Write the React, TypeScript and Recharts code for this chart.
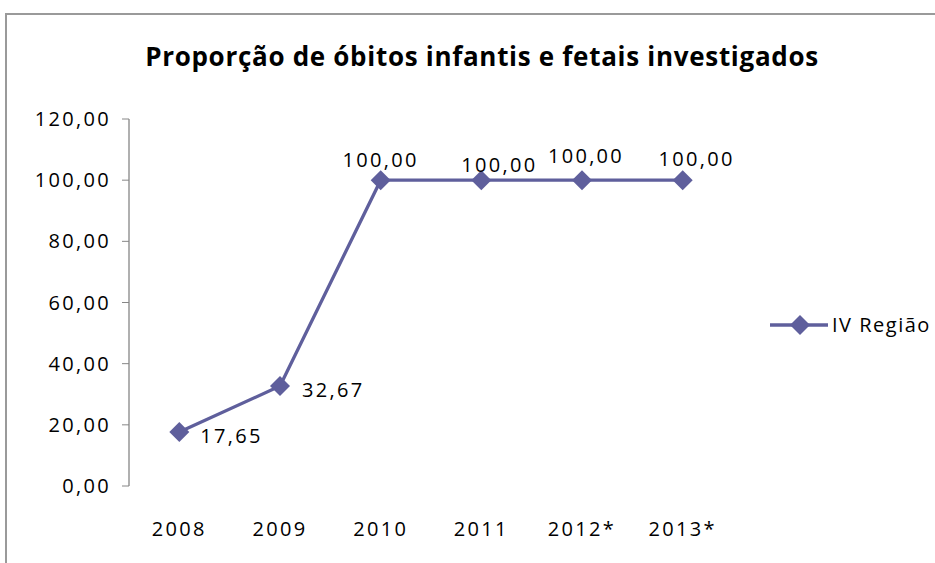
import React from 'react';
import { LineChart, Line, XAxis, YAxis, Legend } from 'recharts';

const categories = ['2008', '2009', '2010', '2011', '2012*', '2013*'];
const ivRegiao = [17.65, 32.67, 100.0, 100.0, 100.0, 100.0];
const yTicks = [0, 20, 40, 60, 80, 100, 120];
const seriesName = 'IV Região';
const chartTitle = 'Proporção de óbitos infantis e fetais investigados';

const data = categories.map((c, i) => ({ pos: i + 0.5, category: c, value: ivRegiao[i] }));
const boundaryTicks = [...categories.map((_, i) => i), categories.length];
const centerTicks = data.map((d) => d.pos);

const LINE_COLOR = '#5F5F9C';
const FONT = '"Open Sans", sans-serif';
const FS = 20;
const LS = 2.3;
const fmt = (v: number) => v.toFixed(2).replace('.', ',');

// label placement style (relative to point), per point index
const labelStyle = [
  { dx: 21, dy: 4, anchor: 'start' },
  { dx: 22, dy: 4, anchor: 'start' },
  { dx: 0, dy: -20, anchor: 'middle' },
  { dx: 18, dy: -15, anchor: 'middle' },
  { dx: 4, dy: -24, anchor: 'middle' },
  { dx: 14, dy: -21, anchor: 'middle' },
];

const Diamond = (props: any) => {
  const { cx, cy, index } = props;
  if (cx == null || cy == null) return null;
  const r = 10;
  return (
    <polygon
      key={`d-${index}`}
      points={`${cx},${cy - r} ${cx + r},${cy} ${cx},${cy + r} ${cx - r},${cy}`}
      fill={LINE_COLOR}
    />
  );
};

const renderLabel = (props: any) => {
  const { x, y, value, index } = props;
  const s = labelStyle[index] || { dx: 0, dy: -20, anchor: 'middle' };
  return (
    <text
      key={`l-${index}`}
      x={x + s.dx}
      y={y + s.dy}
      dy="0.355em"
      textAnchor={s.anchor}
      fontFamily={FONT}
      fontSize={FS}
      letterSpacing={LS}
      fill="#000"
    >
      {fmt(value)}
    </text>
  );
};

const LegendContent = () => (
  <div style={{ display: 'flex', alignItems: 'center', fontFamily: FONT, fontSize: FS, letterSpacing: 1.5, color: '#000', whiteSpace: 'nowrap' }}>
    <svg width={62} height={22} style={{ display: 'block' }}>
      <line x1={2} y1={11} x2={60} y2={11} stroke={LINE_COLOR} strokeWidth={3.3} />
      <polygon points="32,1 42,11 32,21 22,11" fill={LINE_COLOR} />
    </svg>
    <span style={{ marginLeft: 2 }}>{seriesName}</span>
  </div>
);

export default function App() {
  return (
    <div style={{ position: 'absolute', left: 0, top: 0, width: 935, height: 563, background: '#fff', overflow: 'hidden' }}>
      <div
        style={{
          position: 'absolute',
          left: 5,
          top: 13,
          width: 940,
          height: 560,
          borderTop: '2px solid #9a9a9a',
          borderLeft: '2px solid #9a9a9a',
        }}
      />
      <div
        style={{
          position: 'absolute',
          left: 0,
          width: 964,
          top: 41,
          textAlign: 'center',
          fontFamily: FONT,
          fontWeight: 700,
          fontSize: 26,
          lineHeight: '30px',
          letterSpacing: 0.7,
          color: '#000',
        }}
      >
        {chartTitle}
      </div>
      <LineChart
        width={935}
        height={563}
        data={data}
        margin={{ top: 119, right: 202, left: 0, bottom: 0 }}
        style={{ position: 'absolute', left: 0, top: 0 }}
      >
        <XAxis
          xAxisId="ticks"
          dataKey="pos"
          type="number"
          domain={[0, categories.length]}
          ticks={boundaryTicks}
          tick={false}
          tickSize={8}
          height={0}
          stroke="#868686"
          axisLine={{ stroke: '#868686', strokeWidth: 1.3 }}
          tickLine={{ stroke: '#868686' }}
        />
        <XAxis
          xAxisId="main"
          dataKey="pos"
          type="number"
          domain={[0, categories.length]}
          ticks={centerTicks}
          tickFormatter={(v: number) => categories[Math.floor(v)]}
          axisLine={false}
          tickLine={false}
          tickSize={0}
          tickMargin={36}
          height={77}
          tick={{ fill: '#000', fontFamily: FONT, fontSize: FS, letterSpacing: LS }}
          interval={0}
        />
        <YAxis
          domain={[0, 120]}
          ticks={yTicks}
          tickFormatter={fmt}
          width={129}
          tickSize={7}
          tickMargin={11}
          axisLine={{ stroke: '#868686', strokeWidth: 1.3 }}
          tickLine={{ stroke: '#868686' }}
          tick={{ fill: '#000', fontFamily: FONT, fontSize: FS, letterSpacing: LS }}
          interval={0}
        />
        <Legend
          layout="horizontal"
          verticalAlign="middle"
          align="center"
          content={<LegendContent />}
          wrapperStyle={{ position: 'absolute', left: 768, top: 311, width: 200 }}
        />
        <Line
          xAxisId="main"
          type="linear"
          dataKey="value"
          name={seriesName}
          stroke={LINE_COLOR}
          strokeWidth={3.3}
          dot={Diamond}
          activeDot={false}
          label={renderLabel}
          isAnimationActive={false}
        />
      </LineChart>
    </div>
  );
}
